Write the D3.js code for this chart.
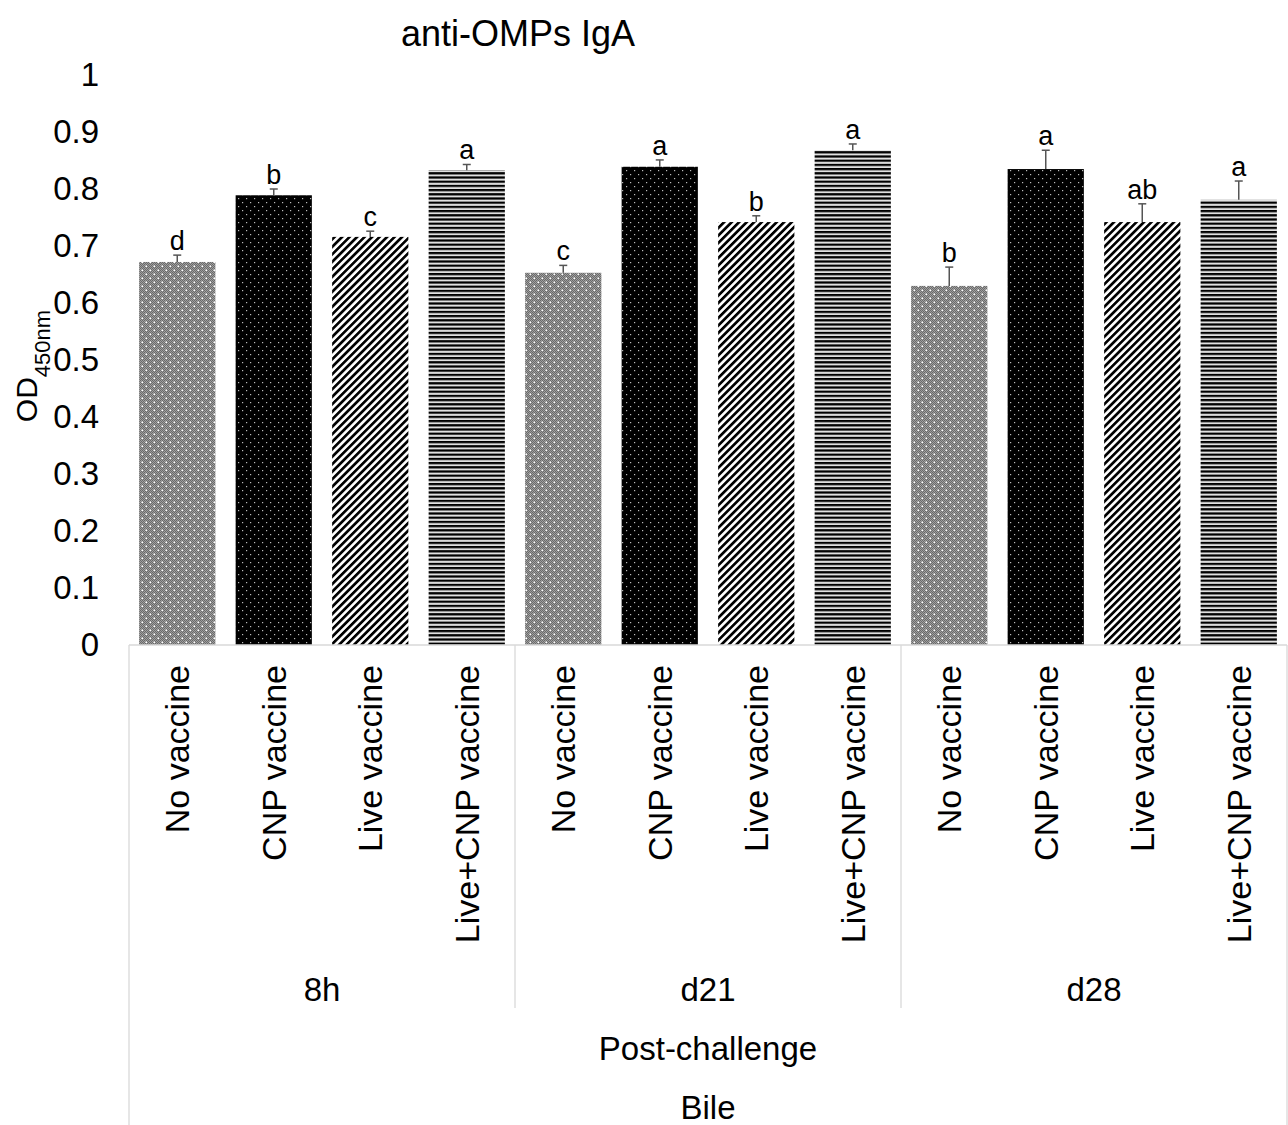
<!DOCTYPE html>
<html>
<head>
<meta charset="utf-8">
<script src="https://cdn.jsdelivr.net/npm/d3@7"></script>
<style>
  body { margin: 0; background: #fff; }
  text { font-family: "Liberation Sans", Arial, sans-serif; fill: #000; }
</style>
</head>
<body>
<script>

// DATA
var groups = ["8h", "d21", "d28"];
var treatments = ["No vaccine", "CNP vaccine", "Live vaccine", "Live+CNP vaccine"];
var means8h  = [0.672, 0.789, 0.716, 0.833];
var meansD21 = [0.653, 0.839, 0.742, 0.868];
var meansD28 = [0.630, 0.835, 0.742, 0.781];
var err8h  = [0.012, 0.011, 0.010, 0.010];
var errD21 = [0.013, 0.012, 0.011, 0.011];
var errD28 = [0.033, 0.033, 0.032, 0.033];
var letters8h  = ["d", "b", "c", "a"];
var lettersD21 = ["c", "a", "b", "a"];
var lettersD28 = ["b", "a", "ab", "a"];
var yTicks = [0, 0.1, 0.2, 0.3, 0.4, 0.5, 0.6, 0.7, 0.8, 0.9, 1];

var means = [means8h, meansD21, meansD28];
var errs = [err8h, errD21, errD28];
var lets = [letters8h, lettersD21, lettersD28];

var data = [];
groups.forEach(function(g, gi){
    treatments.forEach(function(t, ti){
        data.push({key: g + "|" + t, group: g, treat: t, ti: ti,
                   value: means[gi][ti], err: errs[gi][ti], letter: lets[gi][ti]});
    });
});

var width = 1288, height = 1125;
var plotLeft = 129, plotRight = 1287, plotTop = 75, plotBase = 645;

var svg = d3.select("body").append("svg").attr("width", width).attr("height", height);

//PATTERNS
var defs = svg.append("defs");

var p0 = defs.append("pattern").attr("id", "pat0").attr("patternUnits", "userSpaceOnUse")
    .attr("width", 8).attr("height", 8);
p0.append("rect").attr("width", 8).attr("height", 8).attr("fill", "#9e9e9e");
d3.range(8).forEach(function(r){
    d3.range(8).forEach(function(c){
        if ((r + c) % 2 === 0) {
            p0.append("rect").attr("x", c).attr("y", r).attr("width", 1).attr("height", 1).attr("fill", "#6a6a6a");
        }
    });
});
p0.append("rect").attr("x", 1.5).attr("y", 1.5).attr("width", 1.5).attr("height", 1.5).attr("fill", "#fff");
p0.append("rect").attr("x", 5.5).attr("y", 5.5).attr("width", 1.5).attr("height", 1.5).attr("fill", "#fff");

var p1 = defs.append("pattern").attr("id", "pat1").attr("patternUnits", "userSpaceOnUse")
    .attr("width", 8).attr("height", 8);
p1.append("rect").attr("width", 8).attr("height", 8).attr("fill", "#000");
p1.append("rect").attr("x", 2).attr("y", 2).attr("width", 1.2).attr("height", 1.2).attr("fill", "#bbb");
p1.append("rect").attr("x", 6).attr("y", 6).attr("width", 1.2).attr("height", 1.2).attr("fill", "#bbb");

var p2 = defs.append("pattern").attr("id", "pat2").attr("patternUnits", "userSpaceOnUse")
    .attr("width", 5.3).attr("height", 10).attr("patternTransform", "rotate(45)");
p2.append("rect").attr("width", 5.3).attr("height", 10).attr("fill", "#fff");
p2.append("rect").attr("width", 2.7).attr("height", 10).attr("fill", "#000");

var p3 = defs.append("pattern").attr("id", "pat3").attr("patternUnits", "userSpaceOnUse")
    .attr("width", 10).attr("height", 4.2);
p3.append("rect").attr("width", 10).attr("height", 4.2).attr("fill", "#e0e0e0");
p3.append("rect").attr("width", 10).attr("height", 2.2).attr("fill", "#000");

//SCALES
var xScale = d3.scaleBand()
    .domain(data.map(function(d){return d.key;}))
    .range([plotLeft, plotRight])
    .paddingInner(0.21)
    .paddingOuter(0.105);

var yScale = d3.scaleLinear()
    .domain([0, 1])
    .range([plotBase, plotTop]);

//TITLE
svg.append("text").attr("x", 518).attr("y", 46).attr("text-anchor", "middle")
    .style("font-size", "36px").text("anti-OMPs IgA");

//Y AXIS (labels only)
var yAxis = d3.axisLeft(yScale).tickValues(yTicks).tickSize(0).tickPadding(0)
    .tickFormat(function(d){return d3.format("~g")(d);});
var yG = svg.append("g").attr("transform", "translate(99,0)").call(yAxis);
yG.select(".domain").remove();
yG.selectAll("text").style("font-size", "33px").attr("font-family", null).attr("fill", "#000");

//Y TITLE
var yt = svg.append("text").attr("transform", "translate(37,366) rotate(-90)")
    .attr("text-anchor", "middle").style("font-size", "30px");
yt.append("tspan").text("OD");
yt.append("tspan").attr("baseline-shift", "sub").style("font-size", "22px").text("450nm");

//BARS
svg.append("g").selectAll("rect").data(data).enter().append("rect")
    .attr("x", function(d){return xScale(d.key);})
    .attr("y", function(d){return yScale(d.value);})
    .attr("width", xScale.bandwidth())
    .attr("height", function(d){return yScale(0) - yScale(d.value);})
    .attr("fill", function(d){return "url(#pat" + d.ti + ")";});

//ERROR BARS
var eb = svg.append("g").attr("stroke", "#555").attr("stroke-width", 1.5);
eb.selectAll("line.v").data(data).enter().append("line").attr("class", "v")
    .attr("x1", function(d){return xScale(d.key) + xScale.bandwidth()/2;})
    .attr("x2", function(d){return xScale(d.key) + xScale.bandwidth()/2;})
    .attr("y1", function(d){return yScale(d.value);})
    .attr("y2", function(d){return yScale(d.value + d.err);});
eb.selectAll("line.c").data(data).enter().append("line").attr("class", "c")
    .attr("x1", function(d){return xScale(d.key) + xScale.bandwidth()/2 - 4;})
    .attr("x2", function(d){return xScale(d.key) + xScale.bandwidth()/2 + 4;})
    .attr("y1", function(d){return yScale(d.value + d.err);})
    .attr("y2", function(d){return yScale(d.value + d.err);});

//LETTERS
svg.append("g").selectAll("text").data(data).enter().append("text")
    .attr("x", function(d){return xScale(d.key) + xScale.bandwidth()/2;})
    .attr("y", function(d){return yScale(d.value + d.err) - 5;})
    .attr("text-anchor", "middle").style("font-size", "27px")
    .text(function(d){return d.letter;});

//CATEGORY AXIS LINES
var axisLines = svg.append("g").attr("stroke", "#d9d9d9").attr("stroke-width", 1.3);
axisLines.append("line").attr("x1", plotLeft).attr("x2", plotRight).attr("y1", plotBase).attr("y2", plotBase);
axisLines.append("line").attr("x1", plotLeft).attr("x2", plotLeft).attr("y1", plotBase).attr("y2", height);
axisLines.append("line").attr("x1", plotRight).attr("x2", plotRight).attr("y1", plotBase).attr("y2", height);
axisLines.selectAll("line.g").data(groups.slice(1)).enter().append("line").attr("class", "g")
    .attr("x1", function(g){return xScale(g + "|" + treatments[0]) - xScale.step()*xScale.paddingInner()/2;})
    .attr("x2", function(g){return xScale(g + "|" + treatments[0]) - xScale.step()*xScale.paddingInner()/2;})
    .attr("y1", plotBase).attr("y2", 1008);

//CATEGORY LABELS
svg.append("g").selectAll("text").data(data).enter().append("text")
    .attr("transform", function(d){
        return "translate(" + (xScale(d.key) + xScale.bandwidth()/2) + ",665) rotate(-90)";})
    .attr("dy", "0.35em").attr("text-anchor", "end").style("font-size", "34px")
    .text(function(d){return d.treat;});

//GROUP LABELS
svg.append("g").selectAll("text").data(groups).enter().append("text")
    .attr("x", function(g){
        var a = xScale(g + "|" + treatments[0]), b = xScale(g + "|" + treatments[3]) + xScale.bandwidth();
        return (a + b) / 2;})
    .attr("y", 1001).attr("text-anchor", "middle").style("font-size", "33px")
    .text(function(g){return g;});

svg.append("text").attr("x", (plotLeft + plotRight)/2).attr("y", 1060).attr("text-anchor", "middle")
    .style("font-size", "33px").text("Post-challenge");
svg.append("text").attr("x", (plotLeft + plotRight)/2).attr("y", 1119).attr("text-anchor", "middle")
    .style("font-size", "33px").text("Bile");

</script>
</body>
</html>
